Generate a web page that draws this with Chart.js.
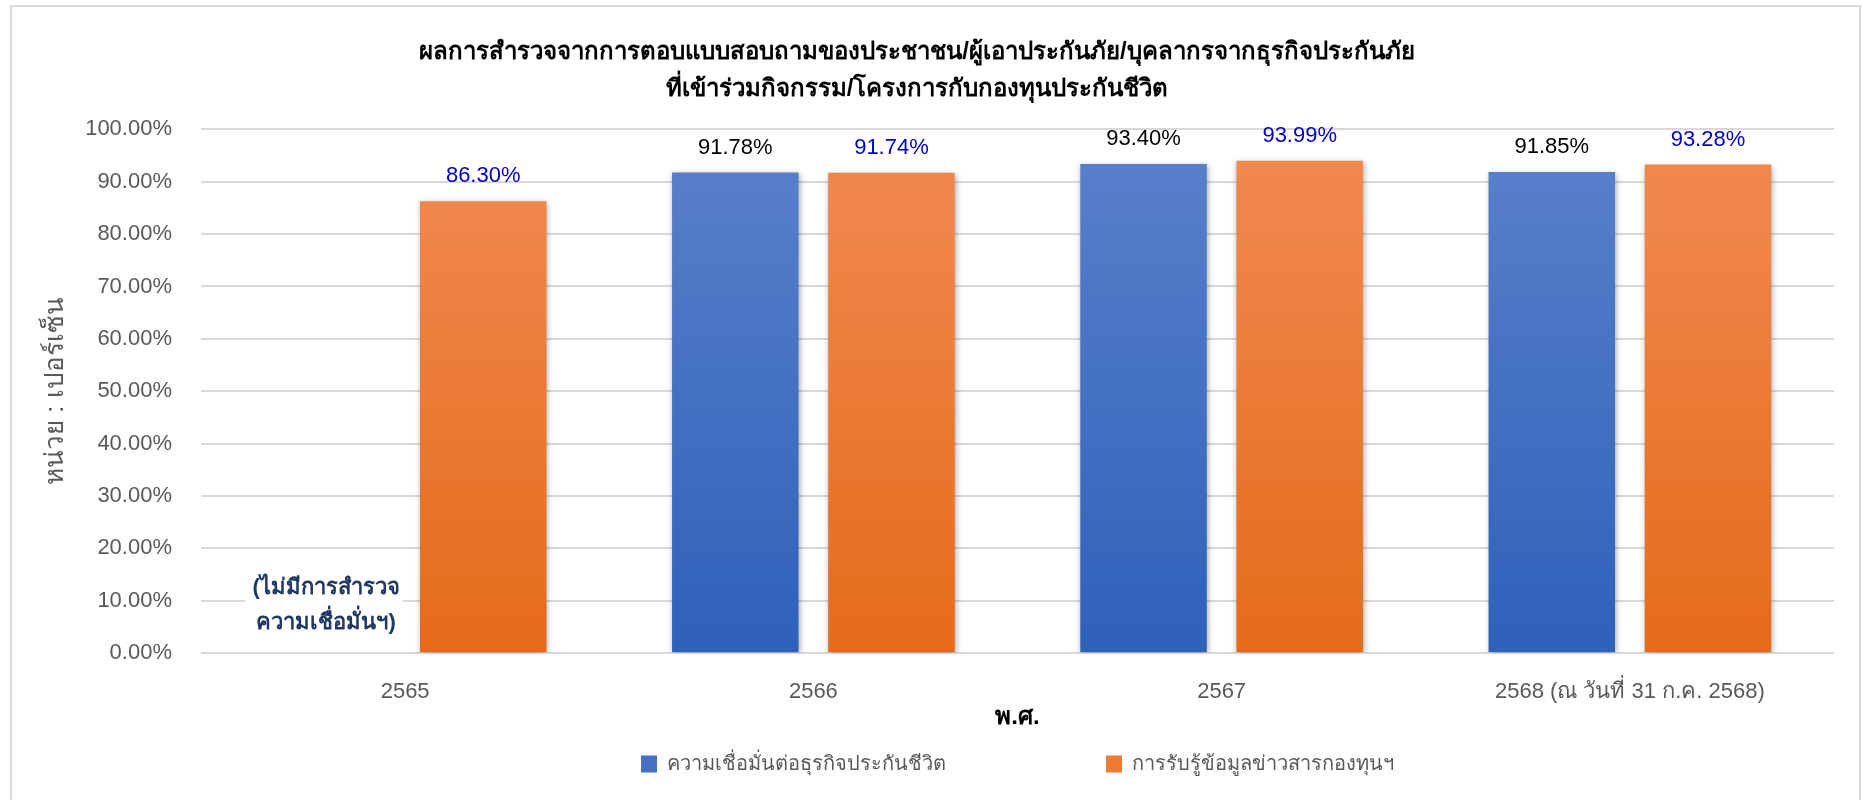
<!DOCTYPE html>
<html>
<head>
<meta charset="utf-8">
<script src="https://cdn.jsdelivr.net/npm/chart.js@4.4.1/dist/chart.umd.min.js"></script>
<style>
  html, body { margin: 0; padding: 0; background: #fff; }
  #wrap { position: relative; width: 1862px; height: 800px; overflow: hidden; }
  #frame { position: absolute; left: 10px; top: 5px; width: 1851px; height: 810px;
           border: 2px solid #d9d9d9; box-sizing: border-box; pointer-events: none; }
</style>
</head>
<body>
<div id="wrap">
  <canvas id="surveyChart" width="1862" height="800"></canvas>
  <div id="frame"></div>
</div>
<script>
var categories = ['2565', '2566', '2567', '2568 (ณ วันที่ 31 ก.ค. 2568)'];
var confidenceValues = [null, 91.78, 93.40, 91.85];
var awarenessValues = [86.30, 91.74, 93.99, 93.28];
var seriesNames = ['ความเชื่อมั่นต่อธุรกิจประกันชีวิต', 'การรับรู้ข้อมูลข่าวสารกองทุนฯ'];
var titleLines = [
  'ผลการสำรวจจากการตอบแบบสอบถามของประชาชน/ผู้เอาประกันภัย/บุคลากรจากธุรกิจประกันภัย',
  'ที่เข้าร่วมกิจกรรม/โครงการกับกองทุนประกันชีวิต'
];
var yAxisTitle = 'หน่วย : เปอร์เซ็น';
var xAxisTitle = 'พ.ศ.';
var noSurveyNote = ['(ไม่มีการสำรวจ', 'ความเชื่อมั่นฯ)'];

var baseFont = '"Liberation Sans", "Noto Sans", sans-serif';

// vertical gradient over the plot area, dark at the bottom
function barGradient(top, bottom) {
  return function (context) {
    var area = context.chart.chartArea;
    if (!area) return bottom;
    var g = context.chart.ctx.createLinearGradient(0, area.bottom, 0, area.top);
    g.addColorStop(0, bottom);
    g.addColorStop(1, top);
    return g;
  };
}

// widen the first legend item so the second one sits where it does in the original
function padLegendText(text, width) {
  var c = document.createElement('canvas').getContext('2d');
  c.font = '20px ' + baseFont;
  var s = text;
  while (c.measureText(s + '\u00a0').width <= width) s += '\u00a0';
  return s;
}

var barDecor = {
  id: 'barDecor',
  beforeDatasetsDraw: function (chart) {
    var ctx = chart.ctx;
    var el = chart.getDatasetMeta(0).data[0];
    var y10 = chart.scales.y.getPixelForValue(10);
    if (el) {
      ctx.save();
      ctx.fillStyle = '#ffffff';
      ctx.fillRect(el.x - 82, y10 - 33, 158, 74);
      ctx.font = 'bold 22px ' + baseFont;
      ctx.fillStyle = '#203864';
      ctx.textAlign = 'center';
      ctx.textBaseline = 'middle';
      ctx.fillText(noSurveyNote[0], el.x - 1, y10 - 13);
      ctx.fillText(noSurveyNote[1], el.x - 1, y10 + 22);
      ctx.restore();
    }
    ctx.save();
    ctx.shadowColor = 'rgba(0,0,0,0.35)';
    ctx.shadowBlur = 6;
    ctx.shadowOffsetX = 1;
    ctx.shadowOffsetY = 2;
  },
  afterDatasetsDraw: function (chart) {
    var ctx = chart.ctx;
    ctx.restore();
    ctx.save();
    ctx.font = '22px ' + baseFont;
    ctx.textAlign = 'center';
    ctx.textBaseline = 'middle';
    chart.data.datasets.forEach(function (ds, i) {
      ctx.fillStyle = i === 0 ? '#000000' : '#0000cc';
      chart.getDatasetMeta(i).data.forEach(function (bar, j) {
        var v = ds.data[j];
        if (v === null || v === undefined) return;
        ctx.fillText(v.toFixed(2) + '%', bar.x, bar.y - 25);
      });
    });
    ctx.restore();
  }
};

var ctx = document.getElementById('surveyChart').getContext('2d');
var chart = new Chart(ctx, {
  type: 'bar',
  data: {
    labels: categories,
    datasets: [
      {
        label: seriesNames[0],
        data: confidenceValues,
        backgroundColor: barGradient('#5b81ca', '#2e61ba'),
        borderWidth: 0,
        categoryPercentage: 0.765,
        barPercentage: 0.81
      },
      {
        label: seriesNames[1],
        data: awarenessValues,
        backgroundColor: barGradient('#f18b53', '#e56b19'),
        borderWidth: 0,
        categoryPercentage: 0.765,
        barPercentage: 0.81
      }
    ]
  },
  options: {
    responsive: false,
    animation: false,
    devicePixelRatio: 1,
    layout: { padding: { left: 0, right: 28, top: 0, bottom: 16 } },
    plugins: {
      title: {
        display: true,
        text: titleLines,
        color: '#000000',
        font: { family: baseFont, size: 24, weight: 'bold', lineHeight: 1.55 },
        padding: { top: 34, bottom: 21 }
      },
      legend: {
        position: 'bottom',
        fullSize: false,
        labels: {
          color: '#595959',
          font: { family: baseFont, size: 20 },
          boxWidth: 16,
          boxHeight: 17,
          padding: 10,
          generateLabels: function (chart) {
            var items = Chart.defaults.plugins.legend.labels.generateLabels(chart);
            items.forEach(function (it, i) {
              it.fillStyle = i === 0 ? '#4670c2' : '#ec7b36';
            });
            items[0].text = padLegendText(items[0].text, 434);
            return items;
          }
        }
      },
      tooltip: { enabled: false }
    },
    scales: {
      x: {
        afterFit: function (scale) { scale.height = 91; },
        grid: { display: false, drawTicks: false },
        border: { display: false },
        ticks: { color: '#595959', font: { family: baseFont, size: 22 }, padding: 26 },
        title: {
          display: true,
          text: xAxisTitle,
          color: '#000000',
          font: { family: baseFont, size: 24, weight: 'bold' },
          padding: { top: 0, bottom: 12.6 }
        }
      },
      y: {
        min: 0,
        max: 100,
        afterFit: function (scale) { scale.width = 201; },
        grid: { color: '#d9d9d9', lineWidth: 2, drawTicks: false },
        border: { display: false },
        ticks: {
          stepSize: 10,
          padding: 29,
          color: '#595959',
          font: { family: baseFont, size: 22 },
          callback: function (v) { return v.toFixed(2) + '%'; }
        },
        title: {
          display: true,
          text: yAxisTitle,
          color: '#595959',
          font: { family: baseFont, size: 26 },
          padding: { top: 40, bottom: 0 }
        }
      }
    }
  },
  plugins: [barDecor]
});
</script>
</body>
</html>
